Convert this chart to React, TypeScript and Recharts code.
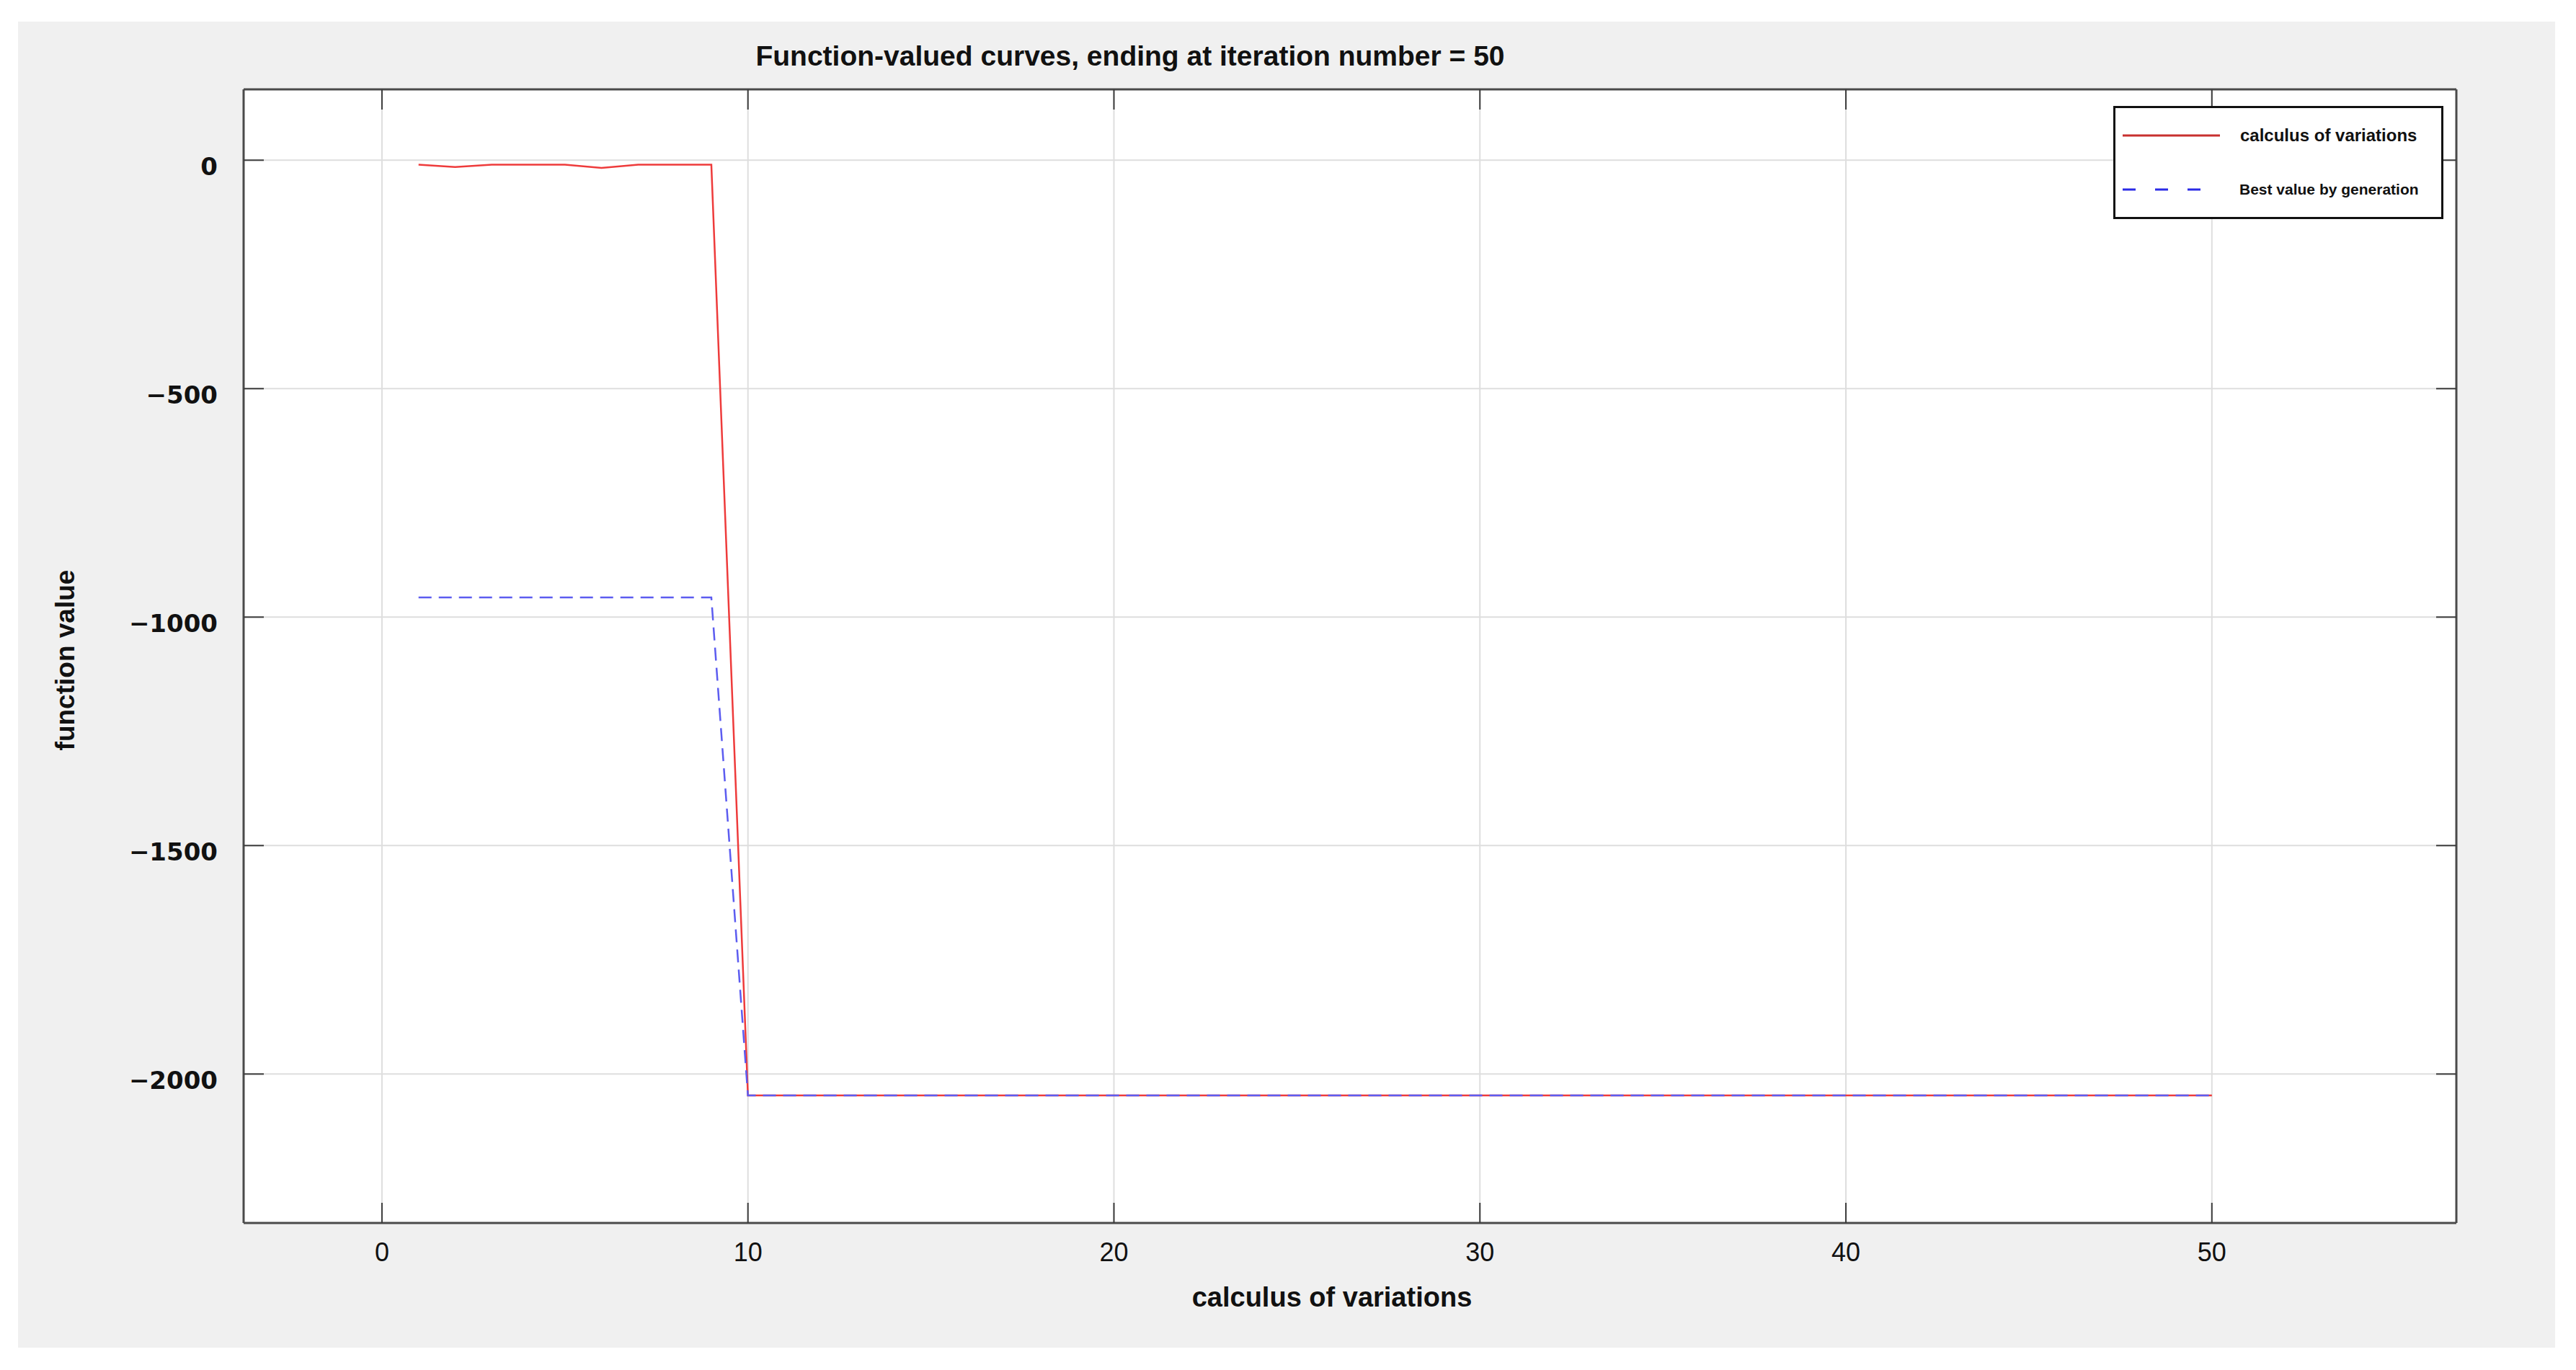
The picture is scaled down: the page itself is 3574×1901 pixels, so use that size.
import { LineChart, Line, XAxis, YAxis, CartesianGrid, Legend } from "recharts";

// iteration number on the x axis
const iterations = [
  1, 2, 3, 4, 5, 6, 7, 8, 9, 10, 11, 12, 13, 14, 15, 16, 17, 18, 19, 20, 21, 22, 23, 24, 25,
  26, 27, 28, 29, 30, 31, 32, 33, 34, 35, 36, 37, 38, 39, 40, 41, 42, 43, 44, 45, 46, 47, 48,
  49, 50,
];

// red solid curve
const variationValues = [
  -10, -15, -10, -10, -10, -17, -10, -10, -10, -2047, -2047, -2047, -2047, -2047, -2047, -2047,
  -2047, -2047, -2047, -2047, -2047, -2047, -2047, -2047, -2047, -2047, -2047, -2047, -2047,
  -2047, -2047, -2047, -2047, -2047, -2047, -2047, -2047, -2047, -2047, -2047, -2047, -2047,
  -2047, -2047, -2047, -2047, -2047, -2047, -2047, -2047,
];

// blue dashed curve
const bestValues = [
  -957, -957, -957, -957, -957, -957, -957, -957, -957, -2047, -2047, -2047, -2047, -2047,
  -2047, -2047, -2047, -2047, -2047, -2047, -2047, -2047, -2047, -2047, -2047, -2047, -2047,
  -2047, -2047, -2047, -2047, -2047, -2047, -2047, -2047, -2047, -2047, -2047, -2047, -2047,
  -2047, -2047, -2047, -2047, -2047, -2047, -2047, -2047, -2047, -2047,
];

const xTicks = [0, 10, 20, 30, 40, 50];
const yTicks = [-2000, -1500, -1000, -500, 0];

const seriesNames = ["calculus of variations", "Best value by generation"];

const W = 3574;
const H = 1901;
const RED = "#ee3b3b";
const BLUE = "#5c5cf0";
const TICK = "#3c3c3c";
const FRAME = { stroke: "#4a4a4a", strokeWidth: 3 };

const data = iterations.map((it, i) => ({
  it,
  cov: variationValues[i],
  best: bestValues[i],
}));

const fmtY = (v: number) => (v < 0 ? "\u2212" + Math.abs(v) : String(v));

const BottomTick = (props: any) => {
  const { x, y, payload } = props;
  return (
    <g>
      <line x1={x} x2={x} y1={y} y2={y - 28} stroke={TICK} strokeWidth={2} />
      <text x={x} y={y + 53} textAnchor="middle" fontSize={36} fontFamily="Liberation Sans" fill="#111">
        {payload.value}
      </text>
    </g>
  );
};

const TopTick = (props: any) => {
  const { x, y } = props;
  return <line x1={x} x2={x} y1={y} y2={y + 28} stroke={TICK} strokeWidth={2} />;
};

const LeftTick = (props: any) => {
  const { x, y, payload } = props;
  return (
    <g>
      <line x1={x} x2={x + 28} y1={y} y2={y} stroke={TICK} strokeWidth={2} />
      <text x={x - 36} y={y + 21} textAnchor="end" fontSize={34} fontWeight="bold" fontFamily="DejaVu Sans" fill="#111">
        {fmtY(payload.value)}
      </text>
    </g>
  );
};

const RightTick = (props: any) => {
  const { x, y } = props;
  return <line x1={x} x2={x - 28} y1={y} y2={y} stroke={TICK} strokeWidth={2} />;
};

const LegendBox = () => (
  <div
    style={{
      position: "relative",
      width: 458,
      height: 157,
      boxSizing: "border-box",
      border: "3px solid #111",
      background: "#fff",
    }}
  >
    <svg width={458} height={157} style={{ position: "absolute", left: -3, top: -3 }}>
      <line x1={13} x2={148} y1={41} y2={41} stroke="#c8302f" strokeWidth={3} />
      <line x1={13} x2={122} y1={116} y2={116} stroke="#2a2ae6" strokeWidth={3} strokeDasharray="18 27" />
      <text x={176} y={49} fontSize={24} fontWeight="bold" fontFamily="Liberation Sans" fill="#111">
        {seriesNames[0]}
      </text>
      <text x={175} y={123} fontSize={21} fontWeight="bold" fontFamily="Liberation Sans" fill="#111">
        {seriesNames[1]}
      </text>
    </svg>
  </div>
);

export default function App() {
  return (
    <div style={{ position: "absolute", left: 0, top: 0, width: W, height: H, background: "#fff" }}>
      <div style={{ position: "absolute", left: 25, top: 30, width: 3520, height: 1840, background: "#f0f0f0" }} />
      <div style={{ position: "absolute", left: 338, top: 124, width: 3070, height: 1573, background: "#fff" }} />
      <div style={{ position: "absolute", left: 0, top: 0 }}>
        <LineChart width={W} height={H} data={data} margin={{ top: 123, right: 165, bottom: 144, left: 298 }}>
          <CartesianGrid xAxisId="b" yAxisId="l" stroke="#dedede" strokeWidth={2} />
          <XAxis
            xAxisId="b"
            dataKey="it"
            type="number"
            domain={[-3.78, 56.68]}
            ticks={xTicks}
            interval={0}
            allowDataOverflow
            height={60}
            tickSize={0}
            tickMargin={0}
            tickLine={false}
            axisLine={FRAME}
            tick={BottomTick}
          />
          <XAxis
            xAxisId="t"
            orientation="top"
            dataKey="it"
            type="number"
            domain={[-3.78, 56.68]}
            ticks={xTicks}
            interval={0}
            allowDataOverflow
            height={1}
            tickSize={0}
            tickMargin={0}
            tickLine={false}
            axisLine={FRAME}
            tick={TopTick}
          />
          <YAxis
            yAxisId="l"
            type="number"
            domain={[-2326, 155]}
            ticks={yTicks}
            interval={0}
            allowDataOverflow
            width={40}
            tickSize={0}
            tickMargin={0}
            tickLine={false}
            axisLine={FRAME}
            tick={LeftTick}
          />
          <YAxis
            yAxisId="r"
            orientation="right"
            type="number"
            domain={[-2326, 155]}
            ticks={yTicks}
            interval={0}
            allowDataOverflow
            width={1}
            tickSize={0}
            tickMargin={0}
            tickLine={false}
            axisLine={FRAME}
            tick={RightTick}
          />
          <Line
            xAxisId="b"
            yAxisId="l"
            dataKey="cov"
            name={seriesNames[0]}
            type="linear"
            stroke={RED}
            strokeWidth={2.5}
            dot={false}
            isAnimationActive={false}
          />
          <Line
            xAxisId="b"
            yAxisId="l"
            dataKey="best"
            name={seriesNames[1]}
            type="linear"
            stroke={BLUE}
            strokeWidth={2.5}
            strokeDasharray="18 10"
            dot={false}
            isAnimationActive={false}
          />
          <Legend
            layout="vertical"
            align="center"
            verticalAlign="middle"
            content={<LegendBox />}
            wrapperStyle={{ left: 2932, top: 147, width: 458, height: 157 }}
          />
        </LineChart>
      </div>
      <svg width={W} height={H} style={{ position: "absolute", left: 0, top: 0, pointerEvents: "none" }}>
        <text x={1568} y={91} textAnchor="middle" fontSize={39} fontWeight="bold" fontFamily="Liberation Sans" fill="#111">
          Function-valued curves, ending at iteration number = 50
        </text>
        <text x={1848} y={1813} textAnchor="middle" fontSize={38} fontWeight="bold" fontFamily="Liberation Sans" fill="#111">
          calculus of variations
        </text>
        <text
          transform="translate(103,916) rotate(-90)"
          textAnchor="middle"
          fontSize={37}
          fontWeight="bold"
          fontFamily="Liberation Sans"
          fill="#111"
        >
          function value
        </text>
      </svg>
    </div>
  );
}
